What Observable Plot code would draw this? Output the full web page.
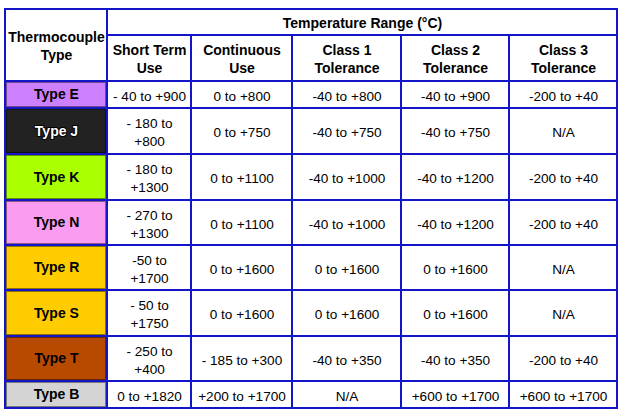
<!DOCTYPE html>
<html><head><meta charset="utf-8">
<script src="https://cdn.jsdelivr.net/npm/d3@7"></script>
<script src="https://cdn.jsdelivr.net/npm/@observablehq/plot@0.6"></script>
<style>body{margin:0;background:#fff}</style>
</head><body><div id="chart"></div>
<script>
// ---- data ----
const groupTitle = "Temperature Range (°C)";
const rowHeader = "Thermocouple\nType";
const columns = ["Short Term\nUse", "Continuous\nUse", "Class 1\nTolerance", "Class 2\nTolerance", "Class 3\nTolerance"];
const types = ["Type E", "Type J", "Type K", "Type N", "Type R", "Type S", "Type T", "Type B"];
const typeColors = ["#CC80FF", "#222222", "#AAFF00", "#FA9CF0", "#FFCC00", "#FFCC00", "#B84A00", "#D4D4D4"];
const shortTerm = ["- 40 to +900", "- 180 to\n+800", "- 180 to\n+1300", "- 270 to\n+1300", "-50 to\n+1700", "- 50 to\n+1750", "- 250 to\n+400", "0 to +1820"];
const continuous = ["0 to +800", "0 to +750", "0 to +1100", "0 to +1100", "0 to +1600", "0 to +1600", "- 185 to +300", "+200 to +1700"];
const class1 = ["-40 to +800", "-40 to +750", "-40 to +1000", "-40 to +1000", "0 to +1600", "0 to +1600", "-40 to +350", "N/A"];
const class2 = ["-40 to +900", "-40 to +750", "-40 to +1200", "-40 to +1200", "0 to +1600", "0 to +1600", "-40 to +350", "+600 to +1700"];
const class3 = ["-200 to +40", "N/A", "-200 to +40", "-200 to +40", "N/A", "N/A", "-200 to +40", "+600 to +1700"];

// ---- layout (styles) ----
const colEdges = [5, 107, 191, 292, 401, 509, 617];
const rowEdges = [9, 35, 81, 108, 154, 200, 245, 290, 336, 381, 408];
const gridColor = "#1414C8";
const font = "'Liberation Sans', Arial, sans-serif";

const valueCols = [shortTerm, continuous, class1, class2, class3];
const valueCells = [];
types.forEach((t, i) => {
  valueCols.forEach((col, j) => {
    valueCells.push({x1: colEdges[j + 1], x2: colEdges[j + 2], y1: rowEdges[i + 2], y2: rowEdges[i + 3], text: col[i]});
  });
});
const headerCells = [
  {x1: colEdges[0], x2: colEdges[1], y1: rowEdges[0], y2: rowEdges[2], text: rowHeader},
  {x1: colEdges[1], x2: colEdges[6], y1: rowEdges[0], y2: rowEdges[1], text: groupTitle},
  ...columns.map((c, j) => ({x1: colEdges[j + 1], x2: colEdges[j + 2], y1: rowEdges[1], y2: rowEdges[2], text: c}))
];
const typeCells = types.map((t, i) => ({x1: colEdges[0], x2: colEdges[1], y1: rowEdges[i + 2], y2: rowEdges[i + 3], type: t}));

const cx = d => (d.x1 + d.x2) / 2;
const cy = d => (d.y1 + d.y2) / 2;
const darker = d => d3.color(typeColors[types.indexOf(d.type)]).darker(1.6).formatHex();

const chart = Plot.plot({
  width: 622,
  height: 416,
  margin: 0,
  style: {fontFamily: font, background: "#fff"},
  x: {type: "linear", domain: [0, 622], range: [0, 622], axis: null},
  y: {type: "linear", domain: [0, 416], range: [0, 416], axis: null},
  color: {domain: types, range: typeColors},
  marks: [
    Plot.rect([...headerCells, ...valueCells], {x1: "x1", x2: "x2", y1: "y1", y2: "y2", fill: "white", stroke: gridColor, strokeWidth: 2}),
    Plot.rect(typeCells, {x1: "x1", x2: "x2", y1: "y1", y2: "y2", fill: "type", stroke: gridColor, strokeWidth: 2}),
    Plot.rect(typeCells, {x1: "x1", x2: "x2", y1: "y1", y2: "y2", inset: 1.5, fill: "none", stroke: darker, strokeWidth: 1}),
    Plot.text(headerCells, {x: cx, y: cy, text: "text", fontSize: 14, fontWeight: "bold", lineHeight: 1.3, fill: "#000"}),
    Plot.text(valueCells, {x: cx, y: cy, text: "text", fontSize: 13.6, lineHeight: 1.33, fill: "#000"}),
    Plot.text(typeCells.filter(d => d.type !== "Type J"), {x: cx, y: cy, text: "type", fontSize: 14, fontWeight: "bold", fill: "#000"}),
    Plot.text(typeCells.filter(d => d.type === "Type J"), {x: cx, y: cy, text: "type", fontSize: 14, fontWeight: "bold", fill: "#fff", stroke: "#000", strokeWidth: 2})
  ]
});
document.getElementById("chart").append(chart);
</script>
</body></html>
